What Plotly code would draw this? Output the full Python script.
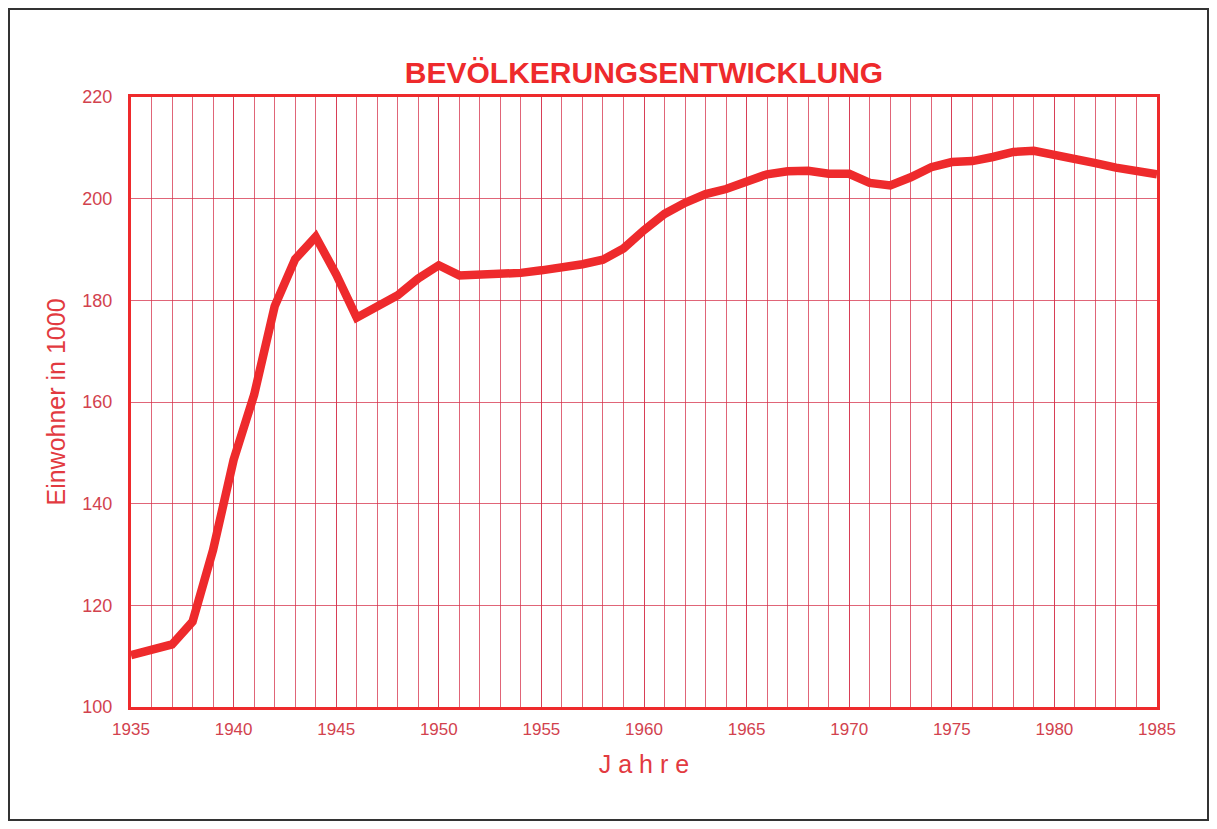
import plotly.graph_objects as go

years = list(range(1935, 1986))
population = [
    110.2, 111.4, 112.3, 116.8, 130.9, 148.6, 161.4, 178.8, 188.1, 192.5,
    185.1, 176.6, 178.8, 181.0, 184.3, 186.9, 184.9, 185.0, 185.1, 185.4,
    185.9, 186.4, 187.1, 188.0, 190.2, 193.8, 197.0, 199.2, 200.9, 201.9,
    203.4, 204.8, 205.4, 205.5, 204.9, 204.9, 203.1, 202.6, 204.2, 206.2,
    207.2, 207.4, 208.2, 209.2, 209.4, 208.7, 208.0, 207.0, 206.1, 205.3, 204.8,
]
x_tick_labels = [1935, 1940, 1945, 1950, 1955, 1960, 1965, 1970, 1975, 1980, 1985]
y_tick_labels = [100, 120, 140, 160, 180, 200, 220]

RED = "#ee2a2c"
GRID = "rgba(214,50,75,0.75)"
TXT = "#e23a40"
TICK = "#d2424e"
FONT = "Liberation Sans, Arial, sans-serif"

fig = go.Figure()
fig.add_trace(go.Scatter(
    x=years, y=population, mode="lines",
    line=dict(color=RED, width=8.5), showlegend=False,
))

# page has an 8px body margin; figure sized to fit the 1217x829 window exactly
W, H = 1201, 813
L, T = 123, 89
PW, PH = 1026, 610
R = W - L - PW
B = H - T - PH

def fx(px):
    return (px - L) / PW

def fy(py):
    return (T + PH - py) / PH

fig.update_layout(
    width=W, height=H,
    margin=dict(l=L, r=R, t=T, b=B),
    paper_bgcolor="white", plot_bgcolor="white",
    title=dict(
        text="<b>BEVÖLKERUNGSENTWICKLUNG</b>",
        font=dict(family=FONT, size=30, color=RED),
        x=0.5, xref="paper", xanchor="center",
        y=1 - 64 / H, yref="container", yanchor="middle",
    ),
    xaxis=dict(
        range=[1935, 1985], tickvals=x_tick_labels,
        showgrid=True, gridcolor=GRID, gridwidth=1,
        minor=dict(dtick=1, tick0=1935, showgrid=True, gridcolor=GRID, gridwidth=1),
        showline=True, linecolor=RED, linewidth=3, mirror=True,
        ticks="", ticklabelstandoff=5,
        tickfont=dict(family=FONT, size=17, color=TICK),
        zeroline=False,
        title=dict(text="J a h r e", font=dict(family=FONT, size=25, color=TXT), standoff=18),
    ),
    yaxis=dict(
        range=[100, 220], tickvals=y_tick_labels,
        showgrid=True, gridcolor=GRID, gridwidth=1,
        showline=True, linecolor=RED, linewidth=3, mirror=True,
        ticks="", ticklabelstandoff=12,
        tickfont=dict(family=FONT, size=18, color=TICK),
        zeroline=False,
        title=dict(text="Einwohner in 1000", font=dict(family=FONT, size=25, color=TXT), standoff=10),
    ),
    shapes=[dict(
        type="rect", xref="paper", yref="paper",
        x0=fx(1), x1=fx(W - 1),
        y0=fy(H - 1), y1=fy(1),
        line=dict(color="#333333", width=2), fillcolor="rgba(0,0,0,0)", layer="below",
    )],
)

fig.write_html("out.html")
